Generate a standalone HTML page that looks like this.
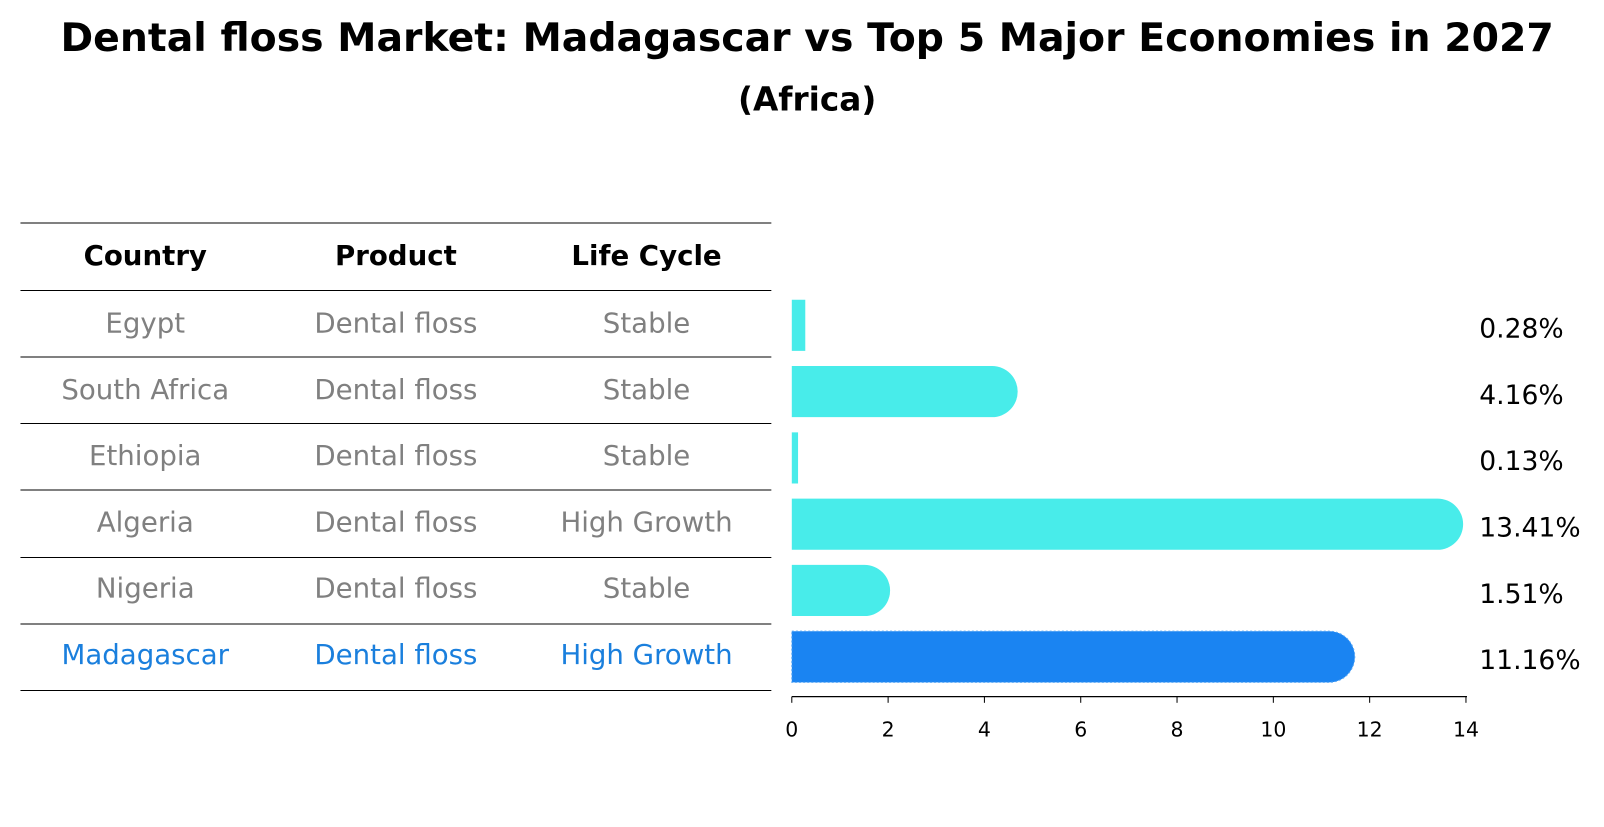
<!DOCTYPE html>
<html><head><meta charset="utf-8"><style>
body{margin:0;background:#fff;font-family:"DejaVu Sans","Liberation Sans",sans-serif;}
svg text{font-family:"DejaVu Sans","Liberation Sans",sans-serif;}
</style></head><body>
<svg id="chart" width="1604" height="823" xmlns="http://www.w3.org/2000/svg">
<rect width="1604" height="823" fill="#fff"/>
<g transform="scale(1.023)">
<text x="789" y="50" text-anchor="middle" font-size="38.5" font-weight="bold">Dental floss Market: Madagascar vs Top 5 Major Economies in 2027</text>
<text x="789" y="108" text-anchor="middle" font-size="32" font-weight="bold">(Africa)</text>
<g id="table"></g>
<g id="bars"></g>
<g id="axis"></g>
</g>
</svg>
<script>
const countries=["Egypt","South Africa","Ethiopia","Algeria","Nigeria","Madagascar"];
const products=["Dental floss","Dental floss","Dental floss","Dental floss","Dental floss","Dental floss"];
const lifecycles=["Stable","Stable","Stable","High Growth","Stable","High Growth"];
const values=[0.28,4.16,0.13,13.41,1.51,11.16];
const ticks=[0,2,4,6,8,10,12,14];
const NS="http://www.w3.org/2000/svg";
function mk(t,a,p){const e=document.createElementNS(NS,t);for(const k in a)e.setAttribute(k,a[k]);p.appendChild(e);return e;}
const x=v=>774+v*(1433-774)/14;
const rowY=i=>316+i*64.8;
const tbl=document.getElementById('table');
const lineYs=[218,284,349,414,479,545,610,675];
lineYs.forEach(y=>{const l=mk('line',{x1:20,x2:754,y1:y,y2:y,stroke:'#000','stroke-width':1},tbl);

});
const cols=[142,387,632];
["Country","Product","Life Cycle"].forEach((h,j)=>{const t=mk('text',{x:cols[j],y:259,'text-anchor':'middle','font-size':27,'font-weight':'bold'},tbl);t.textContent=h;

});
countries.forEach((c,i)=>{const col=i===5?'#1a7fdd':'#808080';
[c,products[i],lifecycles[i]].forEach((s,j)=>{const t=mk('text',{x:cols[j],y:rowY(i)+9,'text-anchor':'middle','font-size':27,fill:col},tbl);t.textContent=s;

});});
const bars=document.getElementById('bars');
const h=50,r=25;
values.forEach((v,i)=>{const y=rowY(i)-h/2+2;const col=i===5?'#1a84f2':'#48ecea';
let d;
if(v>1){d=`M${x(0)},${y} H${x(v)} A${r},${r} 0 0 1 ${x(v)},${y+h} H${x(0)} Z`;}
else{d=`M${x(0)},${y} H${x(v)} V${y+h} H${x(0)} Z`;}
const p=mk('path',{d:d,fill:col},bars);
if(i===5){p.setAttribute('stroke','#5aa8f5');p.setAttribute('stroke-dasharray','2,2');}


const t=mk('text',{x:1446,y:rowY(i)+14,'font-size':26},bars);t.textContent=v.toFixed(2)+'%';

});
const ax=document.getElementById('axis');
mk('line',{x1:774,x2:1434,y1:681,y2:681,stroke:'#000','stroke-width':1.2},ax);
ticks.forEach(v=>{mk('line',{x1:x(v),x2:x(v),y1:681,y2:687,stroke:'#000'},ax);
const t=mk('text',{x:x(v),y:720,'text-anchor':'middle','font-size':20},ax);t.textContent=v;

});
</script>
</body></html>
